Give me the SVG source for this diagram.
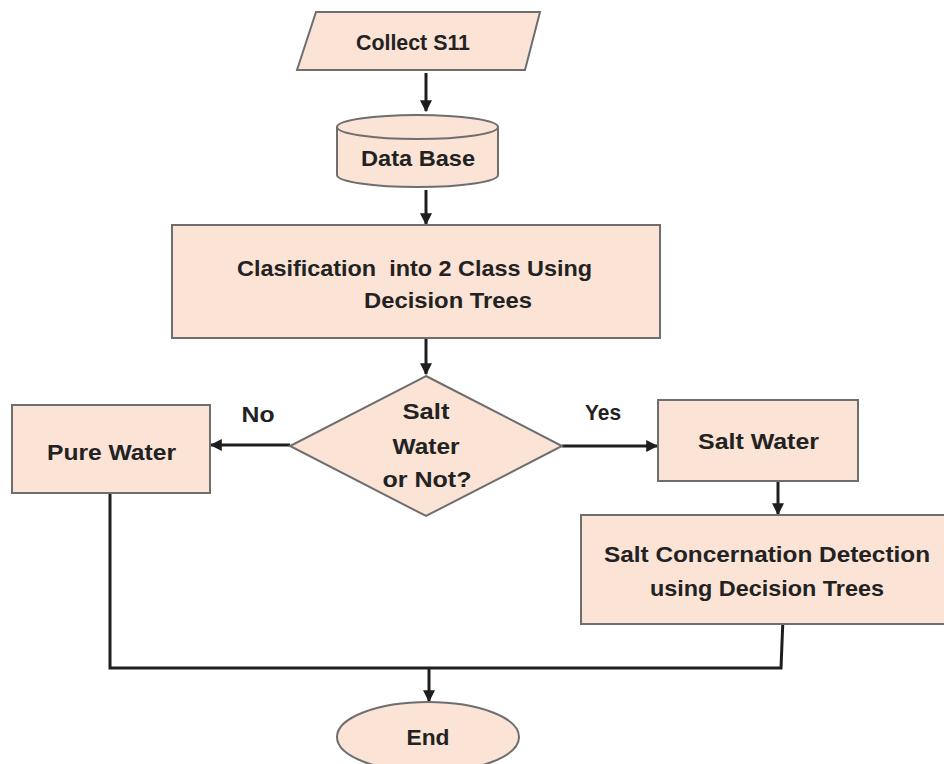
<svg xmlns="http://www.w3.org/2000/svg" width="944" height="764" viewBox="0 0 944 764">
<defs>
<style>
.n{fill:#fbe3d6;stroke:#6e6e6e;stroke-width:2}
.t{font-family:"Liberation Sans",Arial,sans-serif;font-weight:bold;font-size:22px;fill:#222;text-anchor:middle;white-space:pre}
.c{fill:none;stroke:#1e1e1e;stroke-width:3}
</style>
<marker id="ah" viewBox="0 0 10 10" refX="9" refY="5" markerWidth="4" markerHeight="4" orient="auto" markerUnits="strokeWidth">
<path d="M0,0 L10,5 L0,10 z" fill="#1e1e1e"/>
</marker>
</defs>
<rect width="944" height="764" fill="#fff"/>
<g id="connectors">
<line class="c" x1="426" y1="73" x2="426" y2="111" marker-end="url(#ah)"/>
<line class="c" x1="426" y1="190" x2="426" y2="224" marker-end="url(#ah)"/>
<line class="c" x1="426" y1="339" x2="426" y2="374" marker-end="url(#ah)"/>
<line class="c" x1="290" y1="445" x2="211" y2="445" marker-end="url(#ah)"/>
<line class="c" x1="562" y1="446" x2="657" y2="446" marker-end="url(#ah)"/>
<line class="c" x1="778" y1="482" x2="778" y2="514" marker-end="url(#ah)"/>
<polyline class="c" points="110,494 110,668 781,668 783,618"/>
<line class="c" x1="429" y1="668" x2="429" y2="701" marker-end="url(#ah)"/>
<text class="t" x="258" y="422" textLength="33" lengthAdjust="spacingAndGlyphs">No</text>
<text class="t" x="603" y="420" textLength="36" lengthAdjust="spacingAndGlyphs">Yes</text>
</g>
<g id="collect">
<polygon class="n" points="316,12 540,12 525,70 297,70"/>
<text class="t" x="413" y="50" textLength="114" lengthAdjust="spacingAndGlyphs">Collect S11</text>
</g>
<g id="database">
<path class="n" d="M337,127 L337,175 A80.5,12 0 0 0 498,175 L498,127 A80.5,12 0 0 0 337,127 Z"/>
<path class="n" d="M337,127 A80.5,12 0 0 0 498,127"/>
<text class="t" x="418" y="166" textLength="114" lengthAdjust="spacingAndGlyphs">Data Base</text>
</g>
<g id="classify">
<rect class="n" x="172" y="225" width="488" height="113"/>
<text class="t" x="414.5" y="276" textLength="355" lengthAdjust="spacingAndGlyphs" xml:space="preserve">Clasification  into 2 Class Using</text>
<text class="t" x="448" y="308" textLength="168" lengthAdjust="spacingAndGlyphs">Decision Trees</text>
</g>
<g id="decision">
<polygon class="n" points="426,376 562,446 426,516 290,446"/>
<text class="t" x="426" y="419" textLength="47" lengthAdjust="spacingAndGlyphs">Salt</text>
<text class="t" x="426" y="454" textLength="67" lengthAdjust="spacingAndGlyphs">Water</text>
<text class="t" x="427" y="487" textLength="89" lengthAdjust="spacingAndGlyphs">or Not?</text>
</g>
<g id="pure">
<rect class="n" x="12" y="405" width="198" height="88"/>
<text class="t" x="111.5" y="460" textLength="129" lengthAdjust="spacingAndGlyphs">Pure Water</text>
</g>
<g id="salt">
<rect class="n" x="658" y="400" width="200" height="81"/>
<text class="t" x="758.5" y="449" textLength="121" lengthAdjust="spacingAndGlyphs">Salt Water</text>
</g>
<g id="detect">
<rect class="n" x="581" y="515" width="366" height="109"/>
<text class="t" x="767" y="562" textLength="326" lengthAdjust="spacingAndGlyphs">Salt Concernation Detection</text>
<text class="t" x="767" y="596" textLength="234" lengthAdjust="spacingAndGlyphs">using Decision Trees</text>
</g>
<g id="end">
<ellipse class="n" cx="428" cy="737" rx="91" ry="35"/>
<text class="t" x="428" y="745" textLength="43" lengthAdjust="spacingAndGlyphs">End</text>
</g>
</svg>
